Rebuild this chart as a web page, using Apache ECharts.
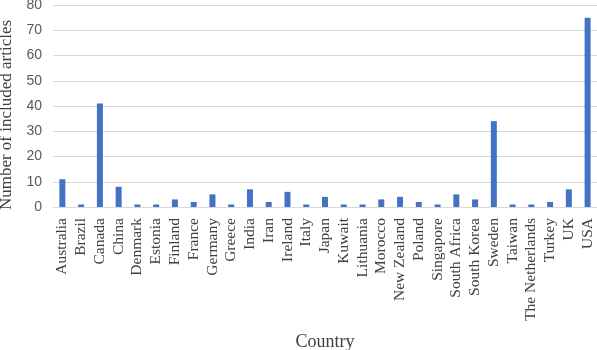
<!DOCTYPE html>
<html><head><meta charset="utf-8">
<script src="https://cdn.jsdelivr.net/npm/echarts@6/dist/echarts.min.js"></script>
<style>html,body{margin:0;padding:0;background:#fff}#c{width:597px;height:350px}</style>
</head><body><div id="c"></div>
<script>
const categories = ["Australia","Brazil","Canada","China","Denmark","Estonia","Finland","France","Germany","Greece","India","Iran","Ireland","Italy","Japan","Kuwait","Lithuania","Morocco","New Zealand","Poland","Singapore","South Africa","South Korea","Sweden","Taiwan","The Netherlands","Turkey","UK","USA"];
const articles = [11,1,41,8,1,1,3,2,5,1,7,2,6,1,4,1,1,3,4,2,1,5,3,34,1,1,2,7,75];
const yTicks = [0,10,20,30,40,50,60,70,80];

const chart = echarts.init(document.getElementById('c'));
chart.setOption({
  animation: false,
  grid: {left: 53, right: 0, top: 5, bottom: 143, containLabel: false, outerBoundsMode: 'none'},
  xAxis: {
    type: 'category', data: categories,
    name: 'Country', nameLocation: 'middle', nameGap: 126,
    nameTextStyle: {fontFamily: 'Liberation Serif', fontSize: 18, color: '#404040'},
    axisLine: {show: true, lineStyle: {color: '#d9d9d9'}},
    axisTick: {show: false},
    axisLabel: {rotate: 90, interval: 0, margin: 11, fontFamily: 'Liberation Serif', fontSize: 15.5, color: '#404040'}
  },
  yAxis: {
    type: 'value', min: yTicks[0], max: yTicks[yTicks.length-1], interval: 10,
    name: 'Number of included articles', nameLocation: 'middle', nameGap: 36,
    nameTextStyle: {fontFamily: 'Liberation Serif', fontSize: 17, color: '#404040', padding: [0, 18, 0, 0]},
    axisLine: {show: false}, axisTick: {show: false},
    axisLabel: {fontFamily: 'Liberation Sans', fontSize: 14, color: '#595959', margin: 11},
    splitLine: {lineStyle: {color: '#d9d9d9', width: 1}}
  },
  series: [{type: 'bar', data: articles, barWidth: 6, itemStyle: {color: '#4472C4'}}]
});
</script></body></html>
